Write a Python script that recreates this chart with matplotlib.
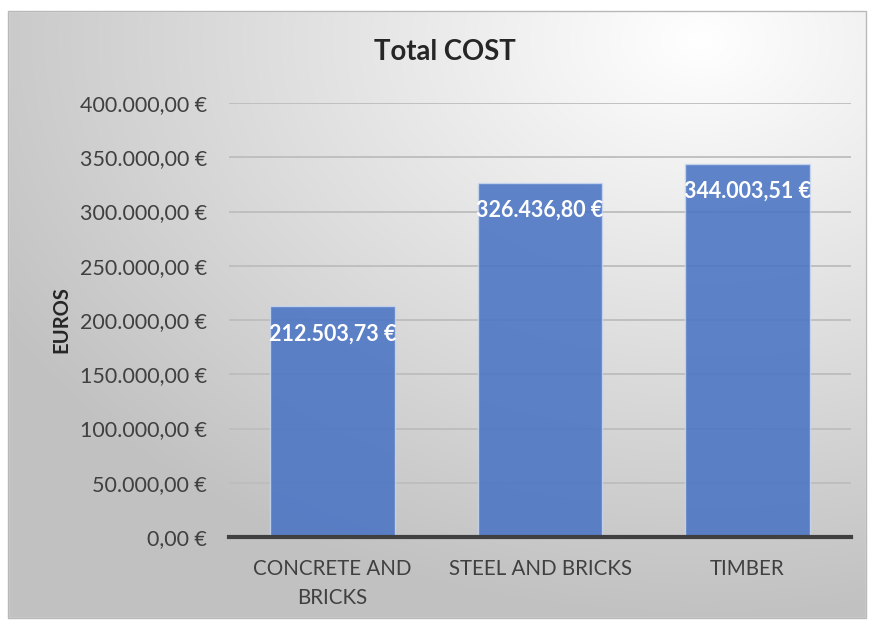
import matplotlib
matplotlib.use("Agg")
import matplotlib.pyplot as plt
import numpy as np
from matplotlib.patches import Rectangle
from matplotlib.ticker import FuncFormatter

CATEGORIES = ["CONCRETE AND\nBRICKS", "STEEL AND BRICKS", "TIMBER"]
TOTAL_COST = [212503.73, 326436.80, 344003.51]
Y_TICKS = [0, 50000, 100000, 150000, 200000, 250000, 300000, 350000, 400000]

BAR_COLOR = "#4a74c4"
FONT = "Lato"


def euro(value, _pos=None):
    # 1234567.8 -> "1.234.567,80 €"
    text = f"{value:,.2f}".replace(",", "X").replace(".", ",").replace("X", ".")
    return f"{text} €"


fig = plt.figure(figsize=(8.69, 6.2), dpi=100)

# radial gray background of the chart frame
bg = fig.add_axes([0, 0, 1, 1], zorder=-10)
bg.set_axis_off()
yy, xx = np.mgrid[0:620, 0:869]
dist = np.hypot((xx - 700) / 869, (yy - 40) / 620)
shade = np.clip(1.0 - 0.26 * dist, 0.76, 1.0)
img = np.dstack([shade, shade, shade])
bg.imshow(img, extent=(0, 869, 620, 0), aspect="auto")
bg.set_xlim(0, 869)
bg.set_ylim(620, 0)
bg.add_patch(Rectangle((0, 0), 869, 11, color="white", zorder=2))
bg.add_patch(Rectangle((0, 618), 869, 2, color="white", zorder=2))
bg.add_patch(Rectangle((0, 0), 8, 620, color="white", zorder=2))
bg.add_patch(Rectangle((866, 0), 3, 620, color="white", zorder=2))
bg.add_patch(Rectangle((8, 11), 858, 607, fill=False, edgecolor="#b8b8b8", lw=1, zorder=3))

ax = fig.add_axes([229 / 869, 1 - 537 / 620, 622 / 869, 434 / 620])
ax.patch.set_alpha(0)

x = np.arange(len(CATEGORIES))
bars = ax.bar(x, TOTAL_COST, width=0.6, color=BAR_COLOR, alpha=0.88,
              edgecolor="#c9d6ee", linewidth=1.0, zorder=2)

for rect, value in zip(bars, TOTAL_COST):
    ax.annotate(euro(value), (rect.get_x() + rect.get_width() / 2, value),
                xytext=(0, -20), textcoords="offset points",
                ha="center", va="center", color="white", fontsize=15.5,
                fontweight="bold", family=FONT, zorder=4)

ax.set_xlim(-0.5, 2.5)
ax.set_ylim(0, 400000)
ax.set_yticks(Y_TICKS)
ax.yaxis.set_major_formatter(FuncFormatter(euro))
ax.set_xticks(x)
ax.set_xticklabels(CATEGORIES, family=FONT, fontsize=14.8, color="#404040",
                   linespacing=1.55)
for lbl in ax.get_yticklabels():
    lbl.set_family(FONT)
    lbl.set_fontsize(15.5)
    lbl.set_color("#404040")

ax.grid(axis="y", color="#bdbdbd", linewidth=1.3, zorder=1)
ax.set_axisbelow(True)
for side in ["left", "right", "top"]:
    ax.spines[side].set_visible(False)
ax.spines["bottom"].set_color("#404040")
ax.spines["bottom"].set_linewidth(3)
ax.spines["bottom"].set_zorder(5)
ax.tick_params(axis="both", length=0)
ax.tick_params(axis="y", pad=16)
ax.tick_params(axis="x", pad=16)

ax.set_ylabel("EUROS", family=FONT, fontsize=14.5, fontweight="bold",
              color="#262626", labelpad=6)
fig.text(445 / 869, 1 - 52 / 620, "Total COST", ha="center", va="center",
         family=FONT, fontsize=19.8, fontweight="bold", color="#262626")

fig.savefig("out.png", dpi=100)
